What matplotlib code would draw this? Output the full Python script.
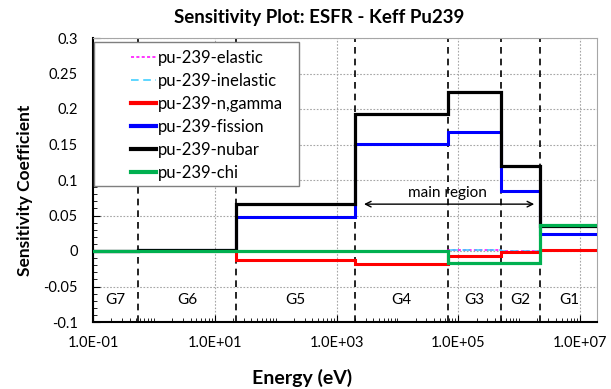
import matplotlib
matplotlib.use("Agg")
import matplotlib.pyplot as plt
import matplotlib.ticker as mticker
from matplotlib.lines import Line2D
from matplotlib.patches import Rectangle

plt.rcParams["font.family"] = ["Lato", "DejaVu Sans"]

# group energy edges (eV), lowest edge below the visible range
edges = [1e-5, 0.54, 22.6, 2035, 67380, 498000, 2231000, 19640000]
groups = ["G7", "G6", "G5", "G4", "G3", "G2", "G1"]

elastic = [0, 0, 0, 0, 0.0015, 0, 0]
inelastic = [0, 0, 0, 0, 0.0012, 0, 0]
ngamma = [0, 0, -0.012, -0.019, -0.0065, -0.001, 0.001]
fission = [0, 0.001, 0.048, 0.151, 0.167, 0.085, 0.0235]
nubar = [0, 0.0015, 0.0656, 0.193, 0.2235, 0.12, 0.035]
chi = [0, 0, 0, 0, -0.0165, -0.0165, 0.036]

series = [
    ("pu-239-elastic", elastic, dict(color="#ff00ff", lw=1.1, ls=(0, (2, 1.5)))),
    ("pu-239-inelastic", inelastic, dict(color="#33ccff", lw=1.1, ls=(0, (5, 3)))),
    ("pu-239-n,gamma", ngamma, dict(color="#ff0000", lw=2.2)),
    ("pu-239-fission", fission, dict(color="#0000ff", lw=2.2)),
    ("pu-239-nubar", nubar, dict(color="#000000", lw=2.3)),
    ("pu-239-chi", chi, dict(color="#00b050", lw=2.3)),
]

W, H = 611, 389
fig = plt.figure(figsize=(W / 100, H / 100), dpi=100)
ax = fig.add_axes([93 / W, 1 - 322 / H, (597 - 93) / W, (322 - 38) / H])

ax.set_xscale("log")
ax.set_xlim(0.1, 1.9e7)
ax.set_ylim(-0.1, 0.3)

# group boundaries
for e in edges[1:]:
    ax.axvline(e, color="black", lw=1.2, ls=(0, (4, 3)), zorder=2)

for label, vals, st in series:
    ax.stairs(vals, edges, baseline=None, zorder=3, **st)

# main region annotation
ax.annotate("", xy=(edges[3] * 1.25, 0.066), xytext=(edges[6] * 0.88, 0.066),
            arrowprops=dict(arrowstyle="<->", color="black", lw=1.0), zorder=3)
ax.text((edges[3] * edges[6]) ** 0.5, 0.082, "main region", ha="center",
        va="center", fontsize=11)

# group labels at the log-centre of each group
for i, g in enumerate(groups):
    lo = max(edges[i], 0.1)
    ax.text((lo * edges[i + 1]) ** 0.5, -0.069, g, ha="center", va="center",
            fontsize=11)

# ticks
ax.xaxis.set_major_locator(mticker.FixedLocator([1e-1, 1e1, 1e3, 1e5, 1e7]))
ax.xaxis.set_major_formatter(mticker.FuncFormatter(lambda v, p: f"{v:.1E}"))
ax.xaxis.set_minor_locator(mticker.LogLocator(base=10, subs=range(1, 10), numticks=30))
ax.xaxis.set_minor_formatter(mticker.NullFormatter())
ax.yaxis.set_major_locator(mticker.MultipleLocator(0.05))
ax.yaxis.set_major_formatter(mticker.FuncFormatter(lambda v, p: f"{v:g}" if abs(v) > 1e-9 else "0"))
ax.yaxis.set_minor_locator(mticker.MultipleLocator(0.01))
ax.tick_params(which="both", direction="in", labelsize=10.5)
ax.tick_params(axis="x", which="major", length=5, pad=10)
ax.tick_params(axis="x", which="minor", length=3)
ax.tick_params(axis="y", which="major", length=5, pad=11)
ax.tick_params(axis="y", which="minor", length=3)
ax.tick_params(top=False, right=False, which="both")

ax.grid(True, which="major", color="#a6a6a6", ls=(0, (1.5, 1.5)), lw=0.8)
ax.set_axisbelow(True)
for s in ["left", "bottom"]:
    ax.spines[s].set_linewidth(1.5)
    ax.spines[s].set_color("black")
for s in ["top", "right"]:
    ax.spines[s].set_linewidth(0.8)
    ax.spines[s].set_color("#a6a6a6")

# legend box
rect = Rectangle((94 / W, 1 - 186 / H), (299 - 94) / W, (186 - 42) / H,
                 transform=fig.transFigure, facecolor="white",
                 edgecolor="#7f7f7f", lw=1.0, zorder=4)
fig.patches.append(rect)
handles = [Line2D([], [], **st) for _, _, st in series]
for h in handles[2:]:
    h.set_linewidth(3)
leg = fig.legend(handles, [s[0] for s in series], loc="upper left",
                 bbox_to_anchor=(131 / W, 1 - 50 / H), frameon=False,
                 fontsize=12, handlelength=1.5, handletextpad=0.1,
                 labelspacing=0.42, borderpad=0, borderaxespad=0)
leg.set_zorder(5)

fig.text(319 / W, 1 - 18 / H, "Sensitivity Plot: ESFR - Keff Pu239",
         ha="center", va="center", fontsize=13.5, fontweight="bold")
fig.text(302 / W, 1 - 378 / H, "Energy (eV)", ha="center", va="center",
         fontsize=14, fontweight="bold")
fig.text(25 / W, 1 - 190 / H, "Sensitivity Coefficient", ha="center",
         va="center", rotation=90, fontsize=12.5, fontweight="bold")

fig.savefig("out.png", dpi=100)
